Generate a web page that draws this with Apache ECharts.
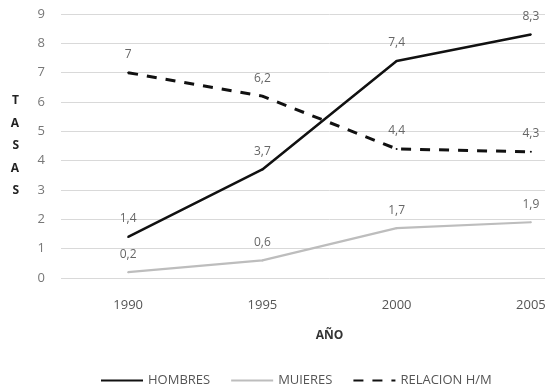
<!DOCTYPE html>
<html><head><meta charset="utf-8">
<script src="https://cdn.jsdelivr.net/npm/echarts@6/dist/echarts.min.js"></script>
<style>html,body{margin:0;padding:0;background:#fff;overflow:hidden}#c{width:598px;height:384px}</style>
</head><body><div id="c"></div>
<script>
const years = ['1990', '1995', '2000', '2005'];
const hombres = [1.4, 3.7, 7.4, 8.3];
const mujeres = [0.2, 0.6, 1.7, 1.9];
const relacion = [7, 6.2, 4.4, 4.3];
const yTicks = [0, 1, 2, 3, 4, 5, 6, 7, 8, 9];

const font = 'Open Sans';
const fmt = p => String(p.value).replace('.', ',');
const labelCfg = {show: true, position: 'top', distance: 11, color: '#666', fontFamily: font, fontSize: 12, formatter: fmt};

const chart = echarts.init(document.getElementById('c'), null, {renderer: 'canvas'});
chart.setOption({
  animation: false,
  backgroundColor: '#fff',
  grid: {left: 61, right: 0, top: 14, bottom: 106, containLabel: false},
  xAxis: {
    type: 'category', data: years, boundaryGap: true,
    axisLine: {show: false}, axisTick: {show: false},
    axisLabel: {color: '#555', fontFamily: font, fontSize: 13, margin: 21},
    name: 'AÑO', nameLocation: 'middle', nameGap: 52,
    nameTextStyle: {color: '#333', fontFamily: font, fontSize: 12, fontWeight: 'bold'}
  },
  yAxis: {
    type: 'value', min: yTicks[0], max: yTicks[yTicks.length - 1], interval: 1,
    axisLine: {show: false}, axisTick: {show: false},
    axisLabel: {color: '#777', fontFamily: font, fontSize: 13, margin: 16},
    splitLine: {lineStyle: {color: '#d9d9d9', width: 1}},
    name: 'T\nA\nS\nA\nS', nameLocation: 'middle', nameRotate: 0, nameGap: 42,
    nameTextStyle: {color: '#222', fontFamily: font, fontSize: 12, fontWeight: 'bold', lineHeight: 22.5, padding: [5, 0, 0, 0]}
  },
  legend: {
    top: 369, left: 95, itemWidth: 42, itemHeight: 10, itemGap: 20,
    textStyle: {color: '#555', fontFamily: font, fontSize: 13},
    itemStyle: {opacity: 0},
    data: ['HOMBRES', 'MUJERES', 'RELACION H/M']
  },
  series: [
    {name: 'HOMBRES', type: 'line', data: hombres, symbol: 'circle', symbolSize: 2,
     lineStyle: {color: '#111', width: 2.5}, itemStyle: {color: '#111'}, label: labelCfg},
    {name: 'MUJERES', type: 'line', data: mujeres, symbol: 'circle', symbolSize: 2,
     lineStyle: {color: '#bdbdbd', width: 2.2}, itemStyle: {color: '#bdbdbd'}, label: labelCfg},
    {name: 'RELACION H/M', type: 'line', data: relacion, symbol: 'circle', symbolSize: 2,
     lineStyle: {color: '#111', width: 3, type: [10, 9]}, itemStyle: {color: '#111'}, label: labelCfg}
  ]
});
</script></body></html>
